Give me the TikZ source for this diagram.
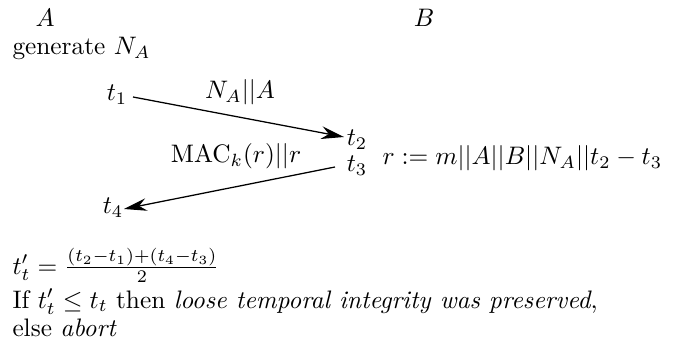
\documentclass[tikz,border=0pt]{standalone}
\usetikzlibrary{arrows.meta}
\begin{document}
\begin{tikzpicture}[x=0.395pt,y=-0.395pt,
  lbl/.style={inner sep=0pt,anchor=base},
  lblw/.style={inner sep=0pt,anchor=base west},
  msg/.style={-{Stealth[length=9pt,width=5pt]},line width=0.5pt}]
\useasboundingbox (0,0) rectangle (673,358);
\node[lbl] (A) at (45,27) {$A$};
\node[lbl] (B) at (424,27) {$B$};
\node[lblw] (gen) at (12,55) {generate $N_A$};
\node[lbl] (t1) at (117,101) {$t_1$};
\node[lbl] (m1) at (240,99) {$N_A||A$};
\node[lbl] (t2) at (357,146) {$t_2$};
\node[lbl] (t3) at (357,172) {$t_3$};
\node[lblw] (r) at (382,165) {$r := m||A||B||N_A||t_2-t_3$};
\node[lbl] (m2) at (236,163) {$\mathrm{MAC}_k(r)||r$};
\node[lbl] (t4) at (113,214) {$t_4$};
\node[lblw] (tt) at (12,274) {$t'_t = \frac{(t_2-t_1)+(t_4-t_3)}{2}$};
\node[lblw] (if) at (12,308) {If $t'_t \le t_t$ then \emph{loose temporal integrity was preserved},};
\node[lblw] (else) at (12,336) {else \emph{abort}};
\coordinate (a1s) at (133,97);
\coordinate (a1e) at (344,137);
\coordinate (a2s) at (335,167);
\coordinate (a2e) at (124,209);
\draw[msg] (a1s) -- (a1e);
\draw[msg] (a2s) -- (a2e);
\end{tikzpicture}
\end{document}
